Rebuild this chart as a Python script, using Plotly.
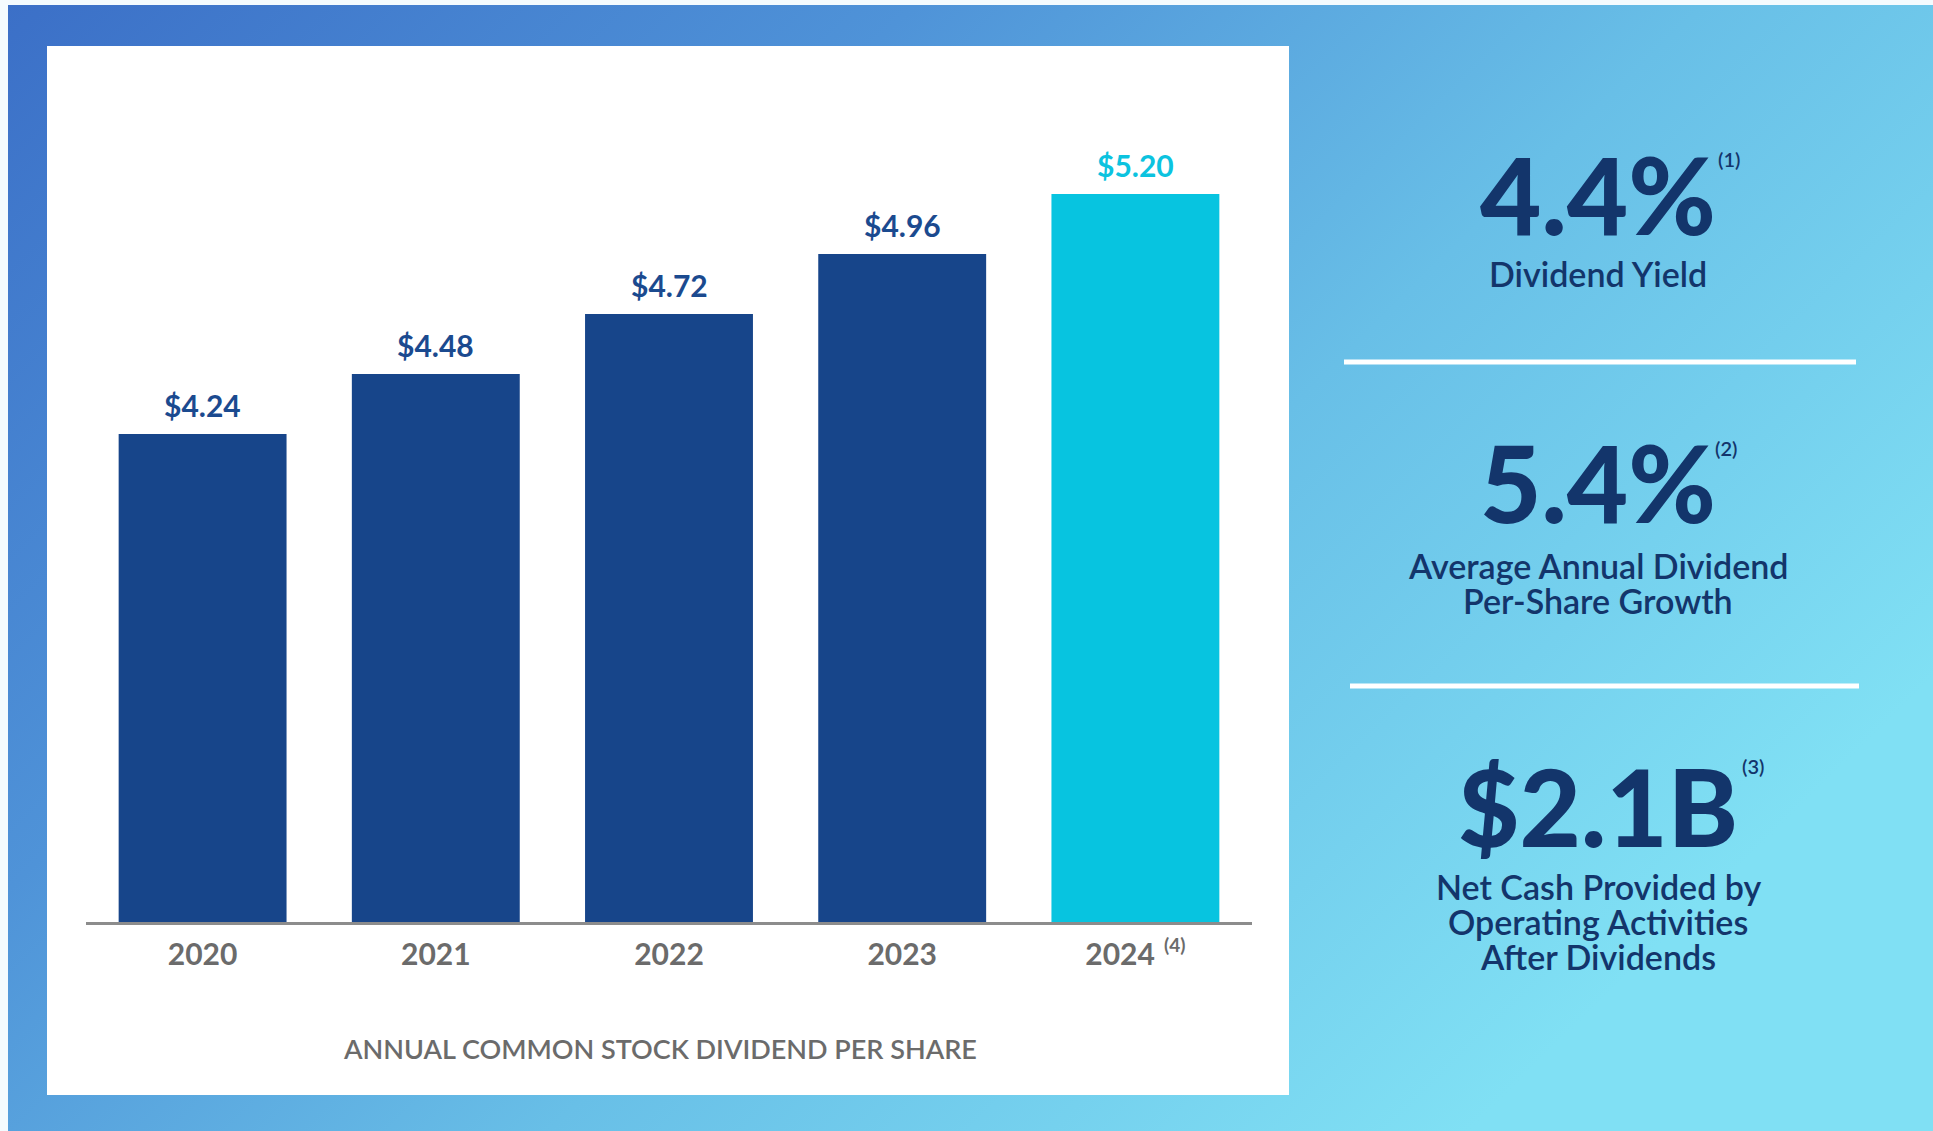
import base64
import plotly.graph_objects as go

# Annual common stock dividend per share
years = ["2020", "2021", "2022", "2023", "2024"]
dividends = [4.24, 4.48, 4.72, 4.96, 5.20]
year_notes = ["", "", "", "", "(4)"]
bar_colors = ["#17458a", "#17458a", "#17458a", "#17458a", "#07c4e0"]
label_colors = ["#1b4a8f", "#1b4a8f", "#1b4a8f", "#1b4a8f", "#0cc3df"]

# Highlight metrics shown on the right
metric_values = ["4.4%", "5.4%", "$2.1B"]
metric_notes = ["(1)", "(2)", "(3)"]
metric_labels = [
    ["Dividend Yield"],
    ["Average Annual Dividend", "Per-Share Growth"],
    ["Net Cash Provided by", "Operating Activities", "After Dividends"],
]
caption = "ANNUAL COMMON STOCK DIVIDEND PER SHARE"

W, H = 1933, 1131
NAVY = "#13356b"
FONT = "Lato"


def px(x):
    return x / W


def py(y):
    return 1 - y / H


# diagonal blue-to-cyan backdrop
svg = (
    f'<svg xmlns="http://www.w3.org/2000/svg" width="{W}" height="{H}" preserveAspectRatio="none">'
    '<defs><linearGradient id="g" x1="0" y1="0" x2="1" y2="0.6">'
    '<stop offset="0" stop-color="#3b6fc7"/>'
    '<stop offset="0.35" stop-color="#4f93d8"/>'
    '<stop offset="0.65" stop-color="#68bfe7"/>'
    '<stop offset="1" stop-color="#80e0f4"/>'
    '</linearGradient></defs>'
    f'<rect width="{W}" height="{H}" fill="url(#g)"/></svg>'
)
bg_src = "data:image/svg+xml;base64," + base64.b64encode(svg.encode()).decode()

tick_text = [
    y + (f'<sup><span style="font-size:19px">  {n}</span></sup>' if n else "")
    for y, n in zip(years, year_notes)
]

fig = go.Figure(
    go.Bar(
        x=years,
        y=dividends,
        marker=dict(color=bar_colors, line=dict(width=0)),
        width=0.72,
        hoverinfo="skip",
    )
)

annotations = []
# value labels above the bars (category index positions)
for i, (v, c) in enumerate(zip(dividends, label_colors)):
    annotations.append(dict(
        x=i, y=v, xref="x", yref="y", text=f"${v:.2f}", showarrow=False,
        yanchor="bottom", yshift=9,
        font=dict(family=FONT, size=30, color=c, weight=700),
    ))

# caption under the chart
annotations.append(dict(
    x=px(660), y=py(1048), xref="paper", yref="paper", text=caption,
    showarrow=False, xanchor="center", yanchor="middle",
    font=dict(family=FONT, size=27, color="#6b6b6b", weight=600),
))

# right-hand metrics
big_y = [194, 482, 806]
note_pos = [(1729, 159), (1726, 448), (1753, 766)]
label_y0 = [274, 565, 886]
cx = 1598
for val, note, lines, by, (nx, ny), ly in zip(
        metric_values, metric_notes, metric_labels, big_y, note_pos, label_y0):
    annotations.append(dict(
        x=px(cx), y=py(by), xref="paper", yref="paper", text=val,
        showarrow=False, xanchor="center", yanchor="middle",
        font=dict(family=FONT, size=106, color=NAVY, weight=900),
    ))
    annotations.append(dict(
        x=px(nx), y=py(ny), xref="paper", yref="paper", text=note,
        showarrow=False, xanchor="center", yanchor="middle",
        font=dict(family=FONT, size=20, color=NAVY, weight=600),
    ))
    for i, line in enumerate(lines):
        annotations.append(dict(
            x=px(cx), y=py(ly + 35 * i), xref="paper", yref="paper", text=line,
            showarrow=False, xanchor="center", yanchor="middle",
            font=dict(family=FONT, size=34, color=NAVY, weight=600),
        ))

shapes = [
    # white chart card
    dict(type="rect", xref="paper", yref="paper", layer="below",
         x0=px(47), x1=px(1289), y0=py(1095), y1=py(46),
         fillcolor="white", line=dict(width=0)),
    # thin light edges of the frame
    dict(type="rect", xref="paper", yref="paper", layer="below",
         x0=0, x1=1, y0=py(5), y1=1, fillcolor="#f4fbfe", line=dict(width=0)),
    dict(type="rect", xref="paper", yref="paper", layer="below",
         x0=0, x1=px(8), y0=0, y1=1, fillcolor="#f4fbfe", line=dict(width=0)),
    # dividers between metrics
    dict(type="line", xref="paper", yref="paper",
         x0=px(1344), x1=px(1856), y0=py(362), y1=py(362),
         line=dict(color="white", width=5)),
    dict(type="line", xref="paper", yref="paper",
         x0=px(1350), x1=px(1859), y0=py(686), y1=py(686),
         line=dict(color="white", width=5)),
]

fig.update_layout(
    width=W, height=H,
    margin=dict(l=0, r=0, t=0, b=0),
    paper_bgcolor="white",
    plot_bgcolor="rgba(0,0,0,0)",
    showlegend=False,
    images=[dict(source=bg_src, xref="paper", yref="paper", x=0, y=1,
                 sizex=1, sizey=1, xanchor="left", yanchor="top",
                 sizing="stretch", layer="below")],
    shapes=shapes,
    annotations=annotations,
    xaxis=dict(
        domain=[px(86), px(1252)], type="category",
        range=[-0.5, len(years) - 0.5], fixedrange=True,
        tickvals=years, ticktext=tick_text,
        showline=True, linecolor="#8c8c8c", linewidth=3,
        ticks="", ticklabelstandoff=4, showgrid=False, zeroline=False,
        tickfont=dict(family=FONT, size=30, color="#6b6b6b", weight=700),
    ),
    yaxis=dict(
        domain=[py(922), py(122)], range=[2.288, 5.488],
        visible=False, showgrid=False, zeroline=False,
    ),
)

fig.write_html("out.html")
